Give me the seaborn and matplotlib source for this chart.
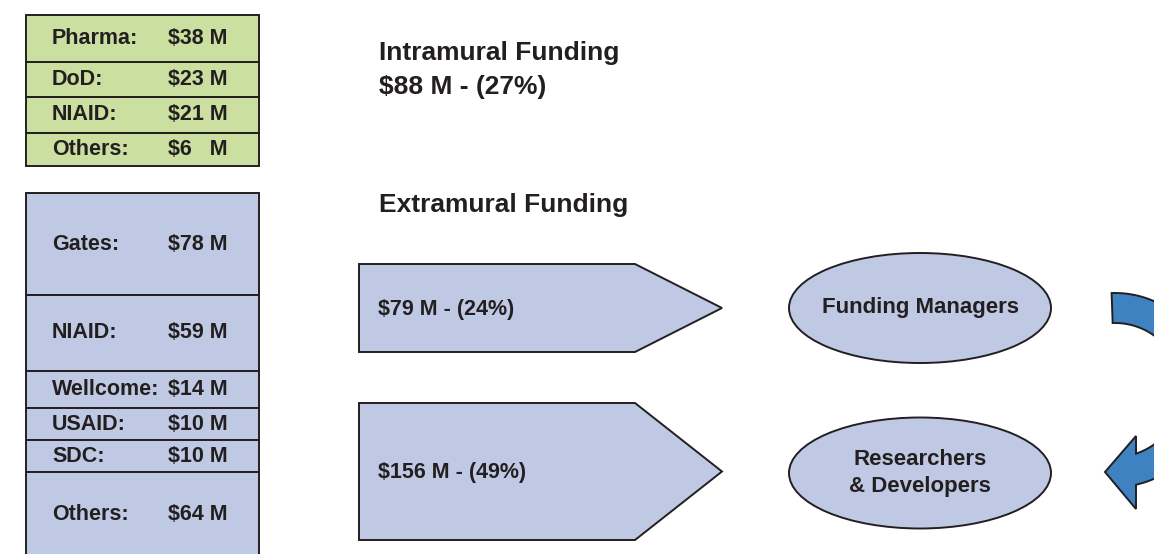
import numpy as np
import matplotlib
matplotlib.use("Agg")
import matplotlib.pyplot as plt
from matplotlib.patches import Polygon, Ellipse
import seaborn as sns

# ---------------- data ----------------
intra_sources = ["Pharma:", "DoD:", "NIAID:", "Others:"]
intra_values = ["$38 M", "$23 M", "$21 M", "$6   M"]
extra_sources = ["Gates:", "NIAID:", "Wellcome:", "USAID:", "SDC:", "Others:"]
extra_values = ["$78 M", "$59 M", "$14 M", "$10 M", "$10 M", "$64 M"]
intra_title = ["Intramural Funding", "$88 M - (27%)"]
extra_title = "Extramural Funding"
flow_labels = ["$79 M - (24%)", "$156 M - (49%)"]
node_labels = ["Funding Managers", "Researchers\n& Developers"]

# ---------------- layout (pixels) ----------------
intra_heights = [47, 35, 36, 33]
extra_heights = [102, 76, 37, 32, 32, 90]
BOX_X, BOX_W = 26, 233
GREEN = "#CADFA0"
LBLUE = "#BFC9E4"
DBLUE = "#3E82C1"
EDGE = "#231F20"
TXT = "#231F20"
LW = 1.4

sns.set_theme(style="white")
plt.rcParams["font.family"] = ["Liberation Sans", "DejaVu Sans"]
plt.rcParams["font.weight"] = "bold"

fig = plt.figure(figsize=(11.54, 5.54), dpi=100)
ax = fig.add_axes([0, 0, 1, 1])
ax.set_xlim(0, 1154)
ax.set_ylim(554, 0)
ax.axis("off")

def stacked(top, heights, names, vals, color):
    bottoms = top + np.concatenate([[0], np.cumsum(heights)[:-1]])
    ax.bar(BOX_X, heights, width=BOX_W, bottom=bottoms, align="edge",
           color=color, edgecolor=EDGE, linewidth=LW)
    for b, h, n, v in zip(bottoms, heights, names, vals):
        yc = b + h / 2
        if b + h > 554:
            yc = b + h / 2 - 2
        ax.text(52, yc, n, ha="left", va="center", fontsize=15.5,
                fontweight="bold", color=TXT)
        ax.text(168, yc, v, ha="left", va="center", fontsize=15.5,
                fontweight="bold", color=TXT)

stacked(15, intra_heights, intra_sources, intra_values, GREEN)
stacked(193, extra_heights, extra_sources, extra_values, LBLUE)

# titles
ax.text(379, 60, intra_title[0], ha="left", va="baseline", fontsize=19,
        fontweight="bold", color=TXT)
ax.text(379, 94, intra_title[1], ha="left", va="baseline", fontsize=19,
        fontweight="bold", color=TXT)
ax.text(379, 212, extra_title, ha="left", va="baseline", fontsize=19,
        fontweight="bold", color=TXT)

# pentagon arrows
arrows = [(264, 352), (403, 540)]
for (t, b), lab in zip(arrows, flow_labels):
    m = (t + b) / 2
    pts = [(359, t), (635, t), (722, m), (635, b), (359, b)]
    ax.add_patch(Polygon(pts, closed=True, facecolor=LBLUE, edgecolor=EDGE,
                         linewidth=LW))
    ax.text(378, m + 1, lab, ha="left", va="center", fontsize=15.5,
            fontweight="bold", color=TXT)

# ellipses
for (cy, h), lab in zip([(308, 110), (473, 111)], node_labels):
    ax.add_patch(Ellipse((920, cy), 262, h, facecolor=LBLUE, edgecolor=EDGE,
                         linewidth=LW))
    ax.text(920, cy, lab, ha="center", va="center", fontsize=16,
            fontweight="bold", color=TXT, linespacing=1.4)

# curved cycle arrows
cx, cy, R, r = 1115, 390, 97, 67
def pt(rad, deg):
    a = np.deg2rad(deg)
    return np.column_stack([cx + rad * np.cos(a), cy - rad * np.sin(a)])

th = np.linspace(92, -5, 60)
top = np.vstack([pt(R, th), pt(r, th[::-1])])
ax.add_patch(Polygon(top, closed=True, facecolor=DBLUE, edgecolor=EDGE,
                     linewidth=LW))

tho = np.linspace(5, -77.5, 60)
thi = np.linspace(-71.7, 5, 60)
bot = np.vstack([pt(R, tho), [[1136, 509], [1105, 472], [1136, 436]],
                 pt(r, thi)])
ax.add_patch(Polygon(bot, closed=True, facecolor=DBLUE, edgecolor=EDGE,
                     linewidth=LW))

fig.savefig("out.png", dpi=100)
